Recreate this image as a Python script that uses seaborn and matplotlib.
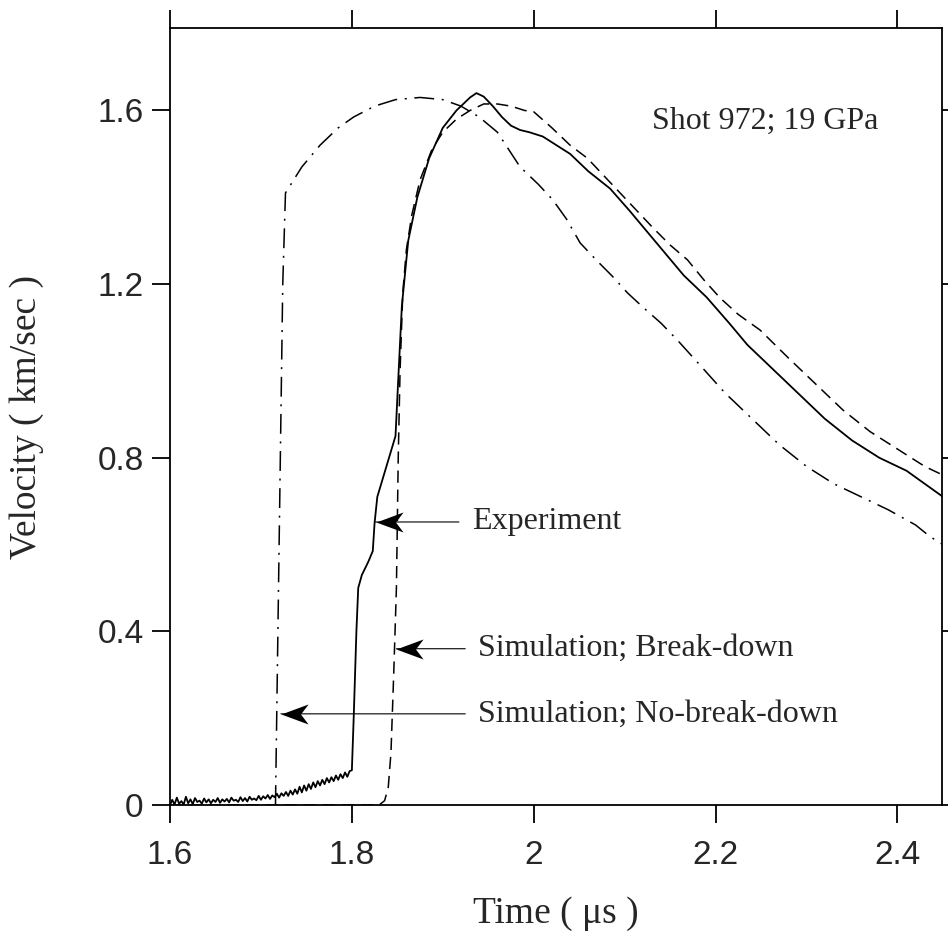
import numpy as np
import matplotlib
matplotlib.use('Agg')
import matplotlib.pyplot as plt
from matplotlib.path import Path
import seaborn as sns

# experiment: noisy foot before the jump (step 0.0025 us)
exp_foot_t = np.round(np.arange(80) * 0.0025 + 1.6, 4)
exp_foot_v = [0.000, 0.012, 0.001, 0.017, 0.003, 0.009, 0.001, 0.019, 0.004, 0.013,
              0.002, 0.016, 0.007, 0.010, 0.003, 0.015, 0.006, 0.013, 0.004, 0.012,
              0.007, 0.016, 0.005, 0.013, 0.008, 0.014, 0.006, 0.017, 0.010, 0.012,
              0.007, 0.018, 0.009, 0.016, 0.008, 0.019, 0.012, 0.015, 0.011, 0.021,
              0.012, 0.020, 0.015, 0.023, 0.014, 0.022, 0.018, 0.026, 0.017, 0.027,
              0.021, 0.030, 0.021, 0.033, 0.024, 0.036, 0.026, 0.042, 0.029, 0.045,
              0.033, 0.048, 0.037, 0.052, 0.041, 0.055, 0.045, 0.058, 0.048, 0.062,
              0.052, 0.064, 0.055, 0.068, 0.058, 0.071, 0.062, 0.075, 0.065, 0.078]

exp_t = [1.800, 1.802, 1.805, 1.807, 1.811, 1.818, 1.823, 1.825, 1.828, 1.838,
         1.848, 1.851, 1.855, 1.862, 1.872, 1.885, 1.900, 1.915, 1.930, 1.937,
         1.945, 1.955, 1.965, 1.975, 1.985, 1.995, 2.010, 2.025, 2.040, 2.060,
         2.084, 2.105, 2.125, 2.145, 2.165, 2.190, 2.215, 2.235, 2.260, 2.290,
         2.320, 2.350, 2.380, 2.410, 2.450]
exp_v = [0.080, 0.200, 0.400, 0.500, 0.530, 0.560, 0.585, 0.650, 0.710, 0.780,
         0.850, 0.980, 1.150, 1.300, 1.400, 1.490, 1.560, 1.600, 1.630, 1.640,
         1.632, 1.610, 1.585, 1.565, 1.555, 1.550, 1.540, 1.520, 1.500, 1.460,
         1.420, 1.370, 1.320, 1.270, 1.220, 1.170, 1.110, 1.060, 1.010, 0.950,
         0.890, 0.840, 0.800, 0.770, 0.710]

bd_t = [1.600, 1.830, 1.836, 1.840, 1.843, 1.846, 1.849, 1.851, 1.853, 1.856,
        1.860, 1.866, 1.875, 1.888, 1.900, 1.915, 1.930, 1.945, 1.960, 1.975,
        1.990, 2.000, 2.020, 2.040, 2.059, 2.077, 2.095, 2.113, 2.131, 2.150,
        2.169, 2.187, 2.205, 2.225, 2.249, 2.280, 2.310, 2.340, 2.370, 2.400,
        2.430, 2.450]
bd_v = [0.000, 0.000, 0.010, 0.040, 0.120, 0.300, 0.500, 0.800, 1.000, 1.180,
        1.280, 1.360, 1.440, 1.510, 1.550, 1.580, 1.600, 1.615, 1.615, 1.610,
        1.600, 1.597, 1.560, 1.520, 1.490, 1.450, 1.410, 1.370, 1.330, 1.290,
        1.256, 1.210, 1.168, 1.130, 1.094, 1.030, 0.970, 0.910, 0.860, 0.820,
        0.780, 0.760]

nbd_t = [1.716, 1.720, 1.724, 1.727, 1.745, 1.765, 1.785, 1.802, 1.825, 1.848,
         1.875, 1.900, 1.920, 1.940, 1.960, 1.985, 2.005, 2.021, 2.036, 2.051,
         2.069, 2.087, 2.103, 2.120, 2.140, 2.158, 2.180, 2.210, 2.240, 2.270,
         2.300, 2.330, 2.360, 2.390, 2.420, 2.436, 2.450]
nbd_v = [0.000, 0.600, 1.200, 1.410, 1.470, 1.520, 1.560, 1.585, 1.610, 1.625,
         1.630, 1.625, 1.610, 1.585, 1.550, 1.470, 1.430, 1.394, 1.350, 1.295,
         1.255, 1.217, 1.180, 1.147, 1.110, 1.071, 1.020, 0.950, 0.890, 0.830,
         0.780, 0.740, 0.710, 0.680, 0.645, 0.618, 0.600]

x_ticks = [1.6, 1.8, 2.0, 2.2, 2.4]
x_labels = ['1.6', '1.8', '2', '2.2', '2.4']
y_ticks = [0, 0.4, 0.8, 1.2, 1.6]
y_labels = ['0', '0.4', '0.8', '1.2', '1.6']

sns.set_theme(style='ticks')
serif = ['Liberation Serif', 'DejaVu Serif']
sans = ['Liberation Sans', 'DejaVu Sans']

fig = plt.figure(figsize=(9.48, 9.38), dpi=100)
ax = fig.add_axes([170 / 948, 133 / 938, 772 / 948, 777 / 938])

full_t = list(exp_foot_t) + exp_t
full_v = exp_foot_v + exp_v
sns.lineplot(x=full_t, y=full_v, ax=ax, color='black', lw=1.3, estimator=None, sort=False)
sns.lineplot(x=bd_t, y=bd_v, ax=ax, color='black', lw=1.1, estimator=None, sort=False)
sns.lineplot(x=nbd_t, y=nbd_v, ax=ax, color='black', lw=1.1, estimator=None, sort=False)
ax.lines[1].set_dashes([8, 4.5])
ax.lines[2].set_dashes([13, 5, 1.3, 5])

ax.set_xlim(1.6, 2.449)
ax.set_ylim(0, 1.79)
ax.set_xticks(x_ticks)
ax.set_xticklabels(x_labels, family=sans, fontsize=24)
ax.set_yticks(y_ticks)
ax.set_yticklabels(y_labels, family=sans, fontsize=24)
ax.tick_params(direction='out', length=13, width=1.3, color='black',
               top=True, right=True, labeltop=False, labelright=False)
ax.tick_params(axis='x', pad=12)
ax.tick_params(axis='y', pad=6)
for s in ax.spines.values():
    s.set_visible(True)
    s.set_color('black')
    s.set_linewidth(1.3)

ax.set_xlabel('Time ( μs )', family=serif, fontsize=27)
ax.set_ylabel('Velocity ( km/sec )', family=serif, fontsize=27)
ax.xaxis.set_label_coords(0.5, -0.118)
ax.yaxis.set_label_coords(-0.163, 0.5)

ax.text(2.130, 1.576, 'Shot 972; 19 GPa', family=serif, fontsize=23,
        ha='left', va='center')

# notched arrow head, tip at the origin, pointing left
head = Path([(0, 0), (1, 0.37), (0.72, 0), (1, -0.37), (0, 0)],
            [Path.MOVETO, Path.LINETO, Path.LINETO, Path.LINETO, Path.CLOSEPOLY])

notes = [('Experiment', 1.826, 1.932, 0.652),
         ('Simulation; Break-down', 1.849, 1.939, 0.36),
         ('Simulation; No-break-down', 1.722, 1.939, 0.21)]
for label, tip, txt_x, yy in notes:
    ax.annotate(label, xy=(tip, yy), xytext=(txt_x, yy), family=serif, fontsize=23,
                ha='left', va='center',
                arrowprops=dict(arrowstyle='-', color='black', lw=0.8,
                                shrinkA=7, shrinkB=0, relpos=(0, 0.5)))
    ax.plot([tip], [yy], marker=head, markersize=39, color='black', mew=0, clip_on=False)

plt.savefig('out.png', dpi=100)
